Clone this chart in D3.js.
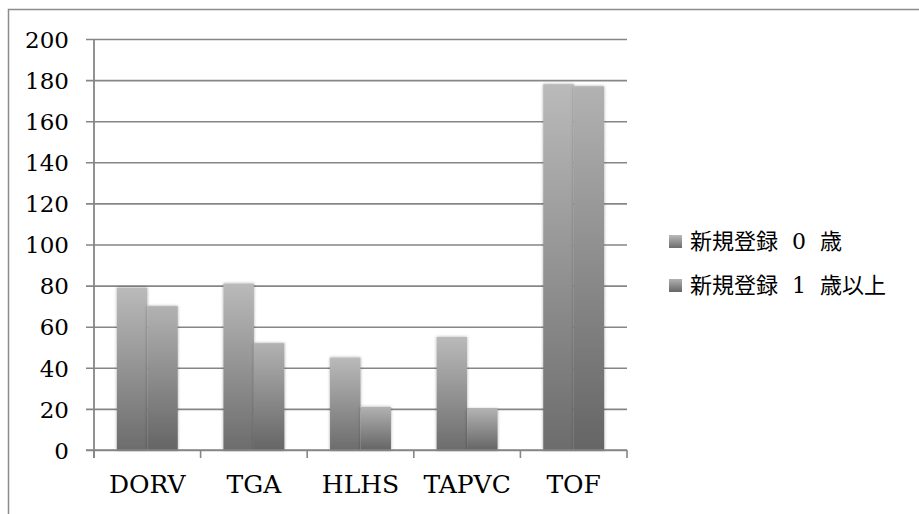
<!DOCTYPE html>
<html>
<head>
<meta charset="utf-8">
<script src="https://cdn.jsdelivr.net/npm/d3@7/dist/d3.min.js"></script>
<style>
html,body{margin:0;padding:0;background:#fff;}
svg{display:block;}
</style>
</head>
<body>
<svg id="chart" width="919" height="514"></svg>
<script>
const categories = ["DORV", "TGA", "HLHS", "TAPVC", "TOF"];
const seriesNames = ["新規登録 0 歳", "新規登録 1 歳以上"];
const series0 = [79, 81, 45, 55, 178];
const series1 = [70, 52, 21, 20, 177];
const yTicks = [0, 20, 40, 60, 80, 100, 120, 140, 160, 180, 200];

const svg = d3.select("#chart");
const serif = "'DejaVu Serif', 'Liberation Serif', serif";
const legendFont = "'DejaVu Serif', 'Noto Sans CJK JP', serif";
const gridColor = "#868686";

// outer frame
svg.append("rect").attr("x", 8.5).attr("y", 9.5).attr("width", 1000).attr("height", 1000)
  .attr("fill", "none").attr("stroke", "#8c8c8c").attr("stroke-width", 1.5);

const defs = svg.append("defs");
const gradColors = [["#bababa", "#6c6c6c"], ["#b2b2b2", "#656565"]];
gradColors.forEach((c, i) => {
  const g = defs.append("linearGradient").attr("id", "g" + i)
    .attr("x1", 0).attr("y1", 0).attr("x2", 0).attr("y2", 1);
  g.append("stop").attr("offset", "0%").attr("stop-color", c[0]);
  g.append("stop").attr("offset", "100%").attr("stop-color", c[1]);
});
const f = defs.append("filter").attr("id", "shadow").attr("x", "-20%").attr("y", "-5%").attr("width", "140%").attr("height", "110%");
f.append("feDropShadow").attr("dx", 0).attr("dy", 0).attr("stdDeviation", 1.6).attr("flood-color", "#000").attr("flood-opacity", 0.35);

const x = d3.scaleBand().domain(categories).range([94, 627]).paddingInner(0).paddingOuter(0);
const groupW = x.bandwidth() / 1.75;
const x1 = d3.scaleBand().domain([0, 1]).range([0, groupW]);
const y = d3.scaleLinear().domain([0, 200]).range([450, 39]);

// gridlines
const yAxis = d3.axisLeft(y).tickValues(yTicks).tickSize(-(627 - 86)).tickPadding(17).tickFormat(d3.format("d"));
const gy = svg.append("g").attr("transform", "translate(86,0)").call(yAxis);
gy.select(".domain").remove();
gy.selectAll(".tick line").attr("stroke", gridColor).attr("stroke-width", 1.6);
gy.selectAll(".tick text").attr("font-family", serif).attr("font-size", 23).attr("fill", "#000").attr("dy", "0.36em");

// bars
const data = categories.map((c, i) => ({c, v: [series0[i], series1[i]]}));
const groups = svg.append("g").selectAll("g").data(data).join("g")
  .attr("transform", d => `translate(${x(d.c) + (x.bandwidth() - groupW) / 2},0)`);
groups.selectAll("rect").data(d => d.v.map((v, k) => ({v, k}))).join("rect")
  .attr("x", d => x1(d.k)).attr("width", x1.bandwidth())
  .attr("y", d => y(d.v)).attr("height", d => y(0) - y(d.v))
  .attr("fill", d => `url(#g${d.k})`).attr("filter", "url(#shadow)");

// y axis line
svg.append("line").attr("x1", 94).attr("x2", 94).attr("y1", y(200)).attr("y2", 458)
  .attr("stroke", gridColor).attr("stroke-width", 1.8);

// x axis
const xAxis = d3.axisBottom(x).tickSize(0).tickPadding(25);
const gx = svg.append("g").attr("transform", `translate(0,${y(0)})`).call(xAxis);
gx.select(".domain").attr("stroke", gridColor).attr("stroke-width", 1.6).attr("d", "M86,0H627");
gx.selectAll(".tick text").attr("font-family", serif).attr("font-size", 25).attr("fill", "#000");
// category boundary ticks
svg.append("g").selectAll("line").data(categories.concat(["end"])).join("line")
  .attr("x1", (d, i) => i < categories.length ? x(d) : 627)
  .attr("x2", (d, i) => i < categories.length ? x(d) : 627)
  .attr("y1", y(0)).attr("y2", y(0) + 8)
  .attr("stroke", gridColor).attr("stroke-width", 1.6);

// legend
const legendY = [241, 285];
const lg = svg.append("g").selectAll("g").data(seriesNames).join("g")
  .attr("transform", (d, i) => `translate(669,${legendY[i]})`);
lg.append("rect").attr("x", 0).attr("y", -6).attr("width", 13).attr("height", 13)
  .attr("fill", (d, i) => `url(#g${i})`);
lg.append("text").attr("x", 21).attr("y", 0).attr("dy", "0.36em")
  .attr("font-family", legendFont).attr("font-size", 22).attr("fill", "#000")
  .attr("word-spacing", 7).text(d => d);
</script>
</body>
</html>
